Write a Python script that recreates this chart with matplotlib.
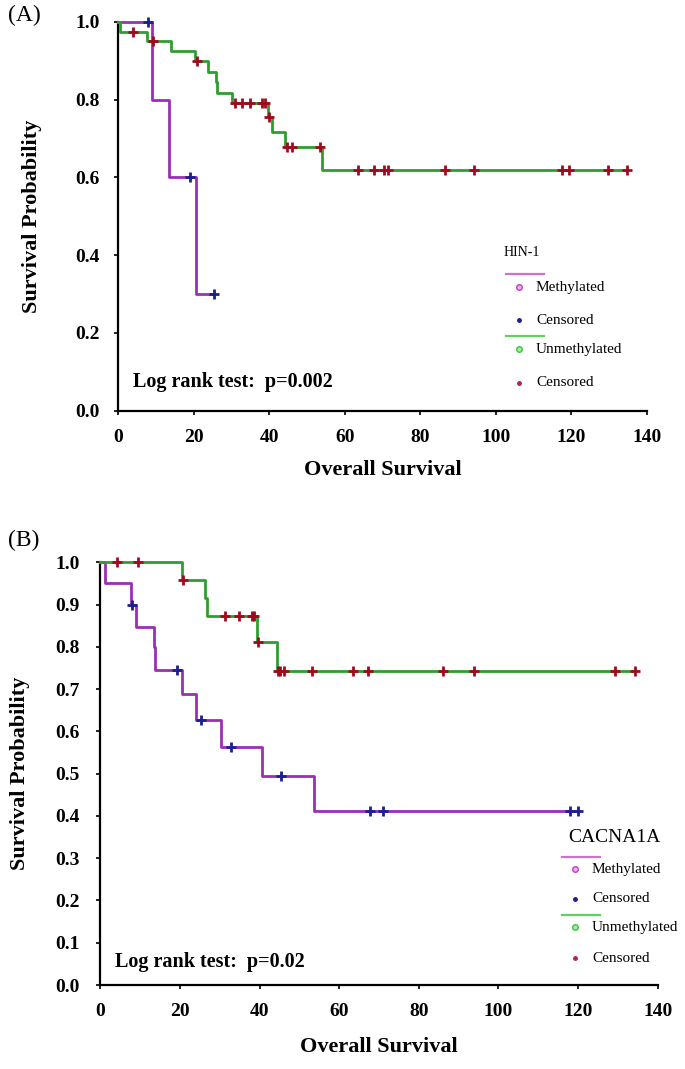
import matplotlib
matplotlib.use("Agg")
import matplotlib.pyplot as plt
from matplotlib.lines import Line2D
import numpy as np

# ---- data (time in months, survival probability) ----
# (A) HIN-1
hin_meth_t = [0, 8.9, 13.5, 20.6]
hin_meth_s = [1.0, 0.80, 0.60, 0.30]
hin_meth_end = 25.4
hin_meth_cens = [8.0, 19.0, 25.4]

hin_unmeth_t = [0, 0.6, 7.6, 13.9, 20.4, 23.7, 25.9, 26.3, 30.1, 39.6, 40.7, 44.2, 53.9]
hin_unmeth_s = [1.0, 0.975, 0.951, 0.925, 0.90, 0.872, 0.846, 0.817, 0.791, 0.756, 0.718, 0.679, 0.619]
hin_unmeth_end = 134.8
hin_unmeth_cens = [4.0, 9.3, 20.8, 31.0, 32.7, 34.9, 38.0, 38.9, 40.0, 44.6, 46.0, 53.4,
                   63.6, 67.7, 70.5, 71.5, 86.5, 94.3, 117.4, 119.4, 129.7, 134.8]

# (B) CACNA1A
cac_meth_t = [0, 1.2, 7.6, 8.9, 13.4, 13.8, 20.4, 23.9, 30.2, 40.7, 53.7]
cac_meth_s = [1.0, 0.95, 0.90, 0.848, 0.80, 0.745, 0.688, 0.628, 0.564, 0.494, 0.412]
cac_meth_end = 120
cac_meth_cens = [8.0, 19.2, 25.4, 32.7, 45.5, 67.7, 71.1, 118.0, 120.0]

cac_unmeth_t = [0, 20.4, 26.2, 26.7, 39.3, 44.3]
cac_unmeth_s = [1.0, 0.958, 0.915, 0.873, 0.812, 0.744]
cac_unmeth_end = 134.3
cac_unmeth_cens = [4.2, 9.5, 20.7, 31.3, 34.9, 38.0, 38.6, 39.7, 44.6, 45.2, 46.1, 53.2,
                   63.5, 67.3, 86.2, 93.9, 129.3, 134.3]

x_ticks = [0, 20, 40, 60, 80, 100, 120, 140]

METH = "#9a2fb4"
UNMETH = "#2f9e2f"
CENS_M = "#1c1f8c"
CENS_U = "#9e0a1e"
SERIF = "Liberation Serif"

W, H = 685, 1069
fig = plt.figure(figsize=(W / 100, H / 100), dpi=100)


def px(x, y):
    return x / W, 1 - y / H


def km(ax, t, s, end, cens, color, ccolor):
    tt = list(t) + [end]
    ss = list(s) + [s[-1]]
    ax.step(tt, ss, where="post", color=color, lw=2.0, clip_on=False, zorder=3)
    idx = np.searchsorted(t, cens, side="right") - 1
    ax.plot(cens, np.array(s)[idx], "+", color=ccolor, ms=7, mew=2.0,
            clip_on=False, zorder=4)


def style(ax, yticks, ypad):
    for side in ["top", "right"]:
        ax.spines[side].set_visible(False)
    for side in ["left", "bottom"]:
        ax.spines[side].set_linewidth(1.6)
    ax.set_xlim(0, 140)
    ax.set_ylim(0, 1.0)
    ax.set_xticks(x_ticks)
    ax.set_yticks(yticks)
    ax.set_yticklabels([f"{v:.1f}" for v in yticks])
    ax.tick_params(axis="y", length=3, width=1.2, pad=ypad)
    ax.tick_params(axis="x", length=3, width=1.2, pad=10)
    for lab in ax.get_xticklabels() + ax.get_yticklabels():
        lab.set_fontfamily(SERIF)
        lab.set_fontweight("bold")
        lab.set_fontsize(14)


def legend(title, tx, ty, tsize, tweight, x0, rows):
    fig.text(*px(tx, ty), title, family=SERIF, fontsize=tsize, weight=tweight,
             va="center", ha="left")
    (ly1, my1, cy1, ly2, my2, cy2) = rows
    fig.add_artist(Line2D([x0 / W, (x0 + 38) / W], [1 - ly1 / H] * 2, color="#d070d0", lw=1.6))
    fig.add_artist(Line2D([x0 / W, (x0 + 38) / W], [1 - ly2 / H] * 2, color="#60d060", lw=1.6))
    mx = x0 + 13
    fig.add_artist(Line2D([mx / W], [1 - my1 / H], marker="o", ms=4, mfc="#f0b0f0", mec="#c040c0", mew=1))
    fig.add_artist(Line2D([mx / W], [1 - cy1 / H], marker="o", ms=2.5, color=CENS_M))
    fig.add_artist(Line2D([mx / W], [1 - my2 / H], marker="o", ms=4, mfc="#a0f0a0", mec="#40c040", mew=1))
    fig.add_artist(Line2D([mx / W], [1 - cy2 / H], marker="o", ms=2.5, color="#c02040"))
    for lab, yy in [("Methylated", my1), ("Censored", cy1), ("Unmethylated", my2), ("Censored", cy2)]:
        fig.text(*px(x0 + 30, yy), lab, family=SERIF, fontsize=11, va="center", ha="left")


# ---- panel A ----
axA = fig.add_axes([118 / W, 1 - 410.7 / H, 529 / W, 388.7 / H])
km(axA, hin_meth_t, hin_meth_s, hin_meth_end, hin_meth_cens, METH, CENS_M)
km(axA, hin_unmeth_t, hin_unmeth_s, hin_unmeth_end, hin_unmeth_cens, UNMETH, CENS_U)
style(axA, [0.0, 0.2, 0.4, 0.6, 0.8, 1.0], 10)
axA.set_xlabel("Overall Survival", family=SERIF, weight="bold", fontsize=16, labelpad=10)
axA.set_ylabel("Survival Probability", family=SERIF, weight="bold", fontsize=16, labelpad=24)
fig.text(*px(133, 382), "Log rank test:  p=0.002", family=SERIF, weight="bold",
         fontsize=14.5, va="center", ha="left")
legend("HIN-1", 504, 252, 10, "normal", 506, (274, 287, 320, 336, 349, 383))
fig.text(*px(8, 15), "(A)", family=SERIF, fontsize=17, va="center", ha="left")

# ---- panel B ----
axB = fig.add_axes([100.4 / W, 1 - 985 / H, 557.2 / W, 422.7 / H])
km(axB, cac_meth_t, cac_meth_s, cac_meth_end, cac_meth_cens, METH, CENS_M)
km(axB, cac_unmeth_t, cac_unmeth_s, cac_unmeth_end, cac_unmeth_cens, UNMETH, CENS_U)
style(axB, [round(0.1 * i, 1) for i in range(11)], 12)
axB.set_xlabel("Overall Survival", family=SERIF, weight="bold", fontsize=16, labelpad=12)
axB.set_ylabel("Survival Probability", family=SERIF, weight="bold", fontsize=16, labelpad=18)
fig.text(*px(115, 962), "Log rank test:  p=0.02", family=SERIF, weight="bold",
         fontsize=14.5, va="center", ha="left")
legend("CACNA1A", 568, 837, 14, "normal", 562, (857, 869, 899, 915, 927, 958))
fig.text(*px(8, 540), "(B)", family=SERIF, fontsize=17, va="center", ha="left")

fig.savefig("out.png", dpi=100)
